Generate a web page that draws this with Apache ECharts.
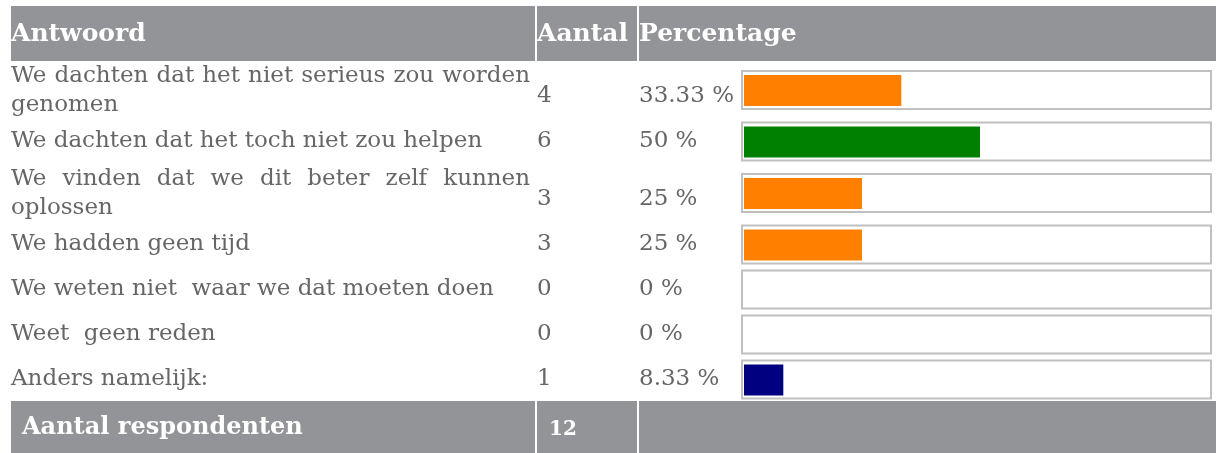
<!DOCTYPE html>
<html><head><meta charset="utf-8">
<script src="https://cdn.jsdelivr.net/npm/echarts@6/dist/echarts.min.js"></script>
<style>html,body{margin:0;padding:0;background:#fff}#c{width:1216px;height:453px}</style>
</head><body><div id="c"></div>
<script>
// ---- data ----
const headers = ['Antwoord', 'Aantal', 'Percentage'];
const answers = [
  'We dachten dat het niet serieus zou worden\ngenomen',
  'We dachten dat het toch niet zou helpen',
  'We vinden dat we dit beter zelf kunnen\noplossen',
  'We hadden geen tijd',
  'We weten niet  waar we dat moeten doen',
  'Weet  geen reden',
  'Anders namelijk:'
];
const counts = [4, 6, 3, 3, 0, 0, 1];
const percentages = [33.33, 50, 25, 25, 0, 0, 8.33];
const percentLabels = ['33.33 %', '50 %', '25 %', '25 %', '0 %', '0 %', '8.33 %'];
const totalLabel = 'Aantal respondenten';
const totalCount = 12;

// ---- style ----
const barColors = ['#ff8000', '#008000', '#ff8000', '#ff8000', '#ff8000', '#ff8000', '#000080'];
const HEAD = '#939498';
const TXT = '#666666';
const FONT = '"DejaVu Serif", Georgia, serif';
const rowFont = '23px ' + FONT;

// row layout derived from text line count
const lineCounts = answers.map(a => a.split('\n').length);
const rowH = lineCounts.map(n => n > 1 ? 58 : 45);
const rowCenters = [];
let acc = 0;
rowH.forEach(h => { rowCenters.push(acc + h / 2); acc += h; });
const totalH = acc;

const mctx = document.createElement('canvas').getContext('2d');
mctx.font = rowFont;
const TEXT_L = 11, TEXT_R = 530;

function lineEls(line, y, justify) {
  if (!justify) {
    return [{ type: 'text', x: TEXT_L, y: y, style: { text: line, font: rowFont, fill: TXT, align: 'left', verticalAlign: 'middle' } }];
  }
  const words = line.split(' ');
  const ws = words.map(w => mctx.measureText(w).width);
  const sum = ws.reduce((a, b) => a + b, 0);
  const gap = Math.max(4, (TEXT_R - TEXT_L - sum) / (words.length - 1));
  const out = [];
  let x = TEXT_L;
  words.forEach((w, i) => {
    out.push({ type: 'text', x: x, y: y, style: { text: w, font: rowFont, fill: TXT, align: 'left', verticalAlign: 'middle' } });
    x += ws[i] + gap;
  });
  return out;
}

const chart = echarts.init(document.getElementById('c'), null, { renderer: 'canvas' });
const W = 1216;
const headFont = 'bold 25px ' + FONT;

chart.setOption({
  animation: false,
  grid: { left: 744, top: 61, width: 480, height: totalH },
  xAxis: { type: 'value', min: 0, max: 100, show: false },
  yAxis: { type: 'value', min: 0, max: totalH, inverse: true, show: false },
  graphic: [
    { type: 'rect', shape: { x: 11, y: 6, width: W - 11, height: 55 }, style: { fill: HEAD } },
    { type: 'rect', shape: { x: 535, y: 6, width: 2, height: 55 }, style: { fill: '#fff' } },
    { type: 'rect', shape: { x: 637, y: 6, width: 2, height: 55 }, style: { fill: '#fff' } },
    { type: 'text', x: 11, y: 34, style: { text: headers[0], font: headFont, fill: '#fff', verticalAlign: 'middle' } },
    { type: 'text', x: 537, y: 34, style: { text: headers[1], font: headFont, fill: '#fff', verticalAlign: 'middle' } },
    { type: 'text', x: 639, y: 34, style: { text: headers[2], font: headFont, fill: '#fff', verticalAlign: 'middle' } },
    { type: 'rect', shape: { x: 11, y: 401, width: W - 11, height: 52 }, style: { fill: HEAD } },
    { type: 'rect', shape: { x: 535, y: 401, width: 2, height: 52 }, style: { fill: '#fff' } },
    { type: 'rect', shape: { x: 637, y: 401, width: 2, height: 52 }, style: { fill: '#fff' } },
    { type: 'text', x: 22, y: 428, style: { text: totalLabel, font: 'bold 24px ' + FONT, fill: '#fff', verticalAlign: 'middle' } },
    { type: 'text', x: 549, y: 430, style: { text: String(totalCount), font: 'bold 20px ' + FONT, fill: '#fff', verticalAlign: 'middle' } }
  ],
  series: [{
    type: 'custom',
    clip: false,
    data: percentages.map((p, i) => [p, rowCenters[i]]),
    renderItem: function (params, api) {
      const i = params.dataIndex;
      const c = api.coord([0, api.value(1)]);
      const cy = c[1];
      const x0 = c[0];
      const x1 = api.coord([api.value(0), api.value(1)])[0];
      const lines = answers[i].split('\n');
      const children = [];
      children.push({ type: 'rect', shape: { x: x0 - 2, y: cy - 19, width: (W - 5) - (x0 - 2), height: 38 },
        style: { fill: '#fff', stroke: '#c0c0c0', lineWidth: 2 } });
      if (x1 > x0) {
        children.push({ type: 'rect', shape: { x: x0, y: cy - 15, width: x1 - x0, height: 31 },
          style: { fill: barColors[i] } });
      }
      if (lines.length > 1) {
        lines.forEach((ln, k) => {
          const y = cy - 14 + k * 29;
          lineEls(ln, y, k < lines.length - 1).forEach(e => children.push(e));
        });
      } else {
        lineEls(lines[0], cy, false).forEach(e => children.push(e));
      }
      const dy = lines.length > 1 ? 6 : 0;
      children.push({ type: 'text', x: 537, y: cy + dy, style: { text: String(counts[i]), font: rowFont, fill: TXT, align: 'left', verticalAlign: 'middle' } });
      children.push({ type: 'text', x: 639, y: cy + dy, style: { text: percentLabels[i], font: rowFont, fill: TXT, align: 'left', verticalAlign: 'middle' } });
      return { type: 'group', children: children };
    }
  }]
});
</script>
</body></html>
